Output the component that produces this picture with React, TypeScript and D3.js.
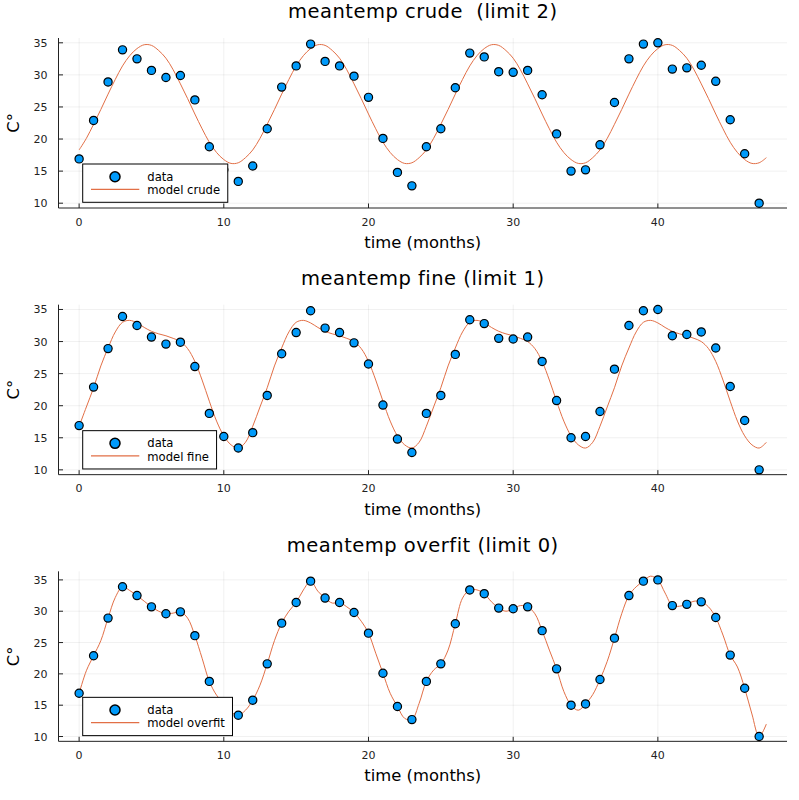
import React from "react";
import * as d3 from "d3";

// ---- data ----
const dataValues = [16.9, 22.9, 28.9, 33.9, 32.5, 30.7, 29.6, 29.9, 26.1, 18.8, 15.2, 13.4, 15.8, 21.6, 28.1, 31.4, 34.8, 32.1, 31.4, 29.8, 26.5, 20.1, 14.8, 12.7, 18.8, 21.6, 28.0, 33.4, 32.8, 30.5, 30.4, 30.7, 26.9, 20.8, 15.0, 15.2, 19.1, 25.7, 32.5, 34.8, 35.0, 30.9, 31.1, 31.5, 29.0, 23.0, 17.7, 10.0];

// model curves sampled every half month, 0 .. 47.5
const modelCrude = [
  18.3, 20.1, 22.3, 24.6, 27.0, 29.3, 31.4, 33.0, 34.1, 34.7, 34.6, 33.8, 32.6, 30.8, 28.6, 26.3, 23.9, 21.6, 19.5, 17.9, 16.8, 16.2, 16.3, 17.1,
  18.3, 20.1, 22.3, 24.6, 27.0, 29.3, 31.4, 33.0, 34.1, 34.7, 34.6, 33.8, 32.6, 30.8, 28.6, 26.3, 23.9, 21.6, 19.5, 17.9, 16.8, 16.2, 16.3, 17.1,
  18.3, 20.1, 22.3, 24.6, 27.0, 29.3, 31.4, 33.0, 34.1, 34.7, 34.6, 33.8, 32.6, 30.8, 28.6, 26.3, 23.9, 21.6, 19.5, 17.9, 16.8, 16.2, 16.3, 17.1,
  18.3, 20.1, 22.3, 24.6, 27.0, 29.3, 31.4, 33.0, 34.1, 34.7, 34.6, 33.8, 32.6, 30.8, 28.6, 26.3, 23.9, 21.6, 19.5, 17.9, 16.8, 16.2, 16.3, 17.1,
];

const modelFine = [
  16.8, 19.8, 22.8, 26.2, 29.0, 31.5, 33.0, 33.3, 32.9, 32.2, 31.6, 31.2, 30.9, 30.5, 30.0, 28.9, 26.9, 24.0, 20.7, 17.6, 15.3, 13.9, 13.4, 14.3,
  16.8, 19.8, 22.8, 26.2, 29.0, 31.5, 33.0, 33.3, 32.9, 32.2, 31.6, 31.2, 30.9, 30.5, 30.0, 28.9, 26.9, 24.0, 20.7, 17.6, 15.3, 13.9, 13.4, 14.3,
  16.8, 19.8, 22.8, 26.2, 29.0, 31.5, 33.0, 33.3, 32.9, 32.2, 31.6, 31.2, 30.9, 30.5, 30.0, 28.9, 26.9, 24.0, 20.7, 17.6, 15.3, 13.9, 13.4, 14.3,
  16.8, 19.8, 22.8, 26.2, 29.0, 31.5, 33.0, 33.3, 32.9, 32.2, 31.6, 31.2, 30.9, 30.5, 30.0, 28.9, 26.9, 24.0, 20.7, 17.6, 15.3, 13.9, 13.4, 14.3,
];

const modelOverfit = [
  16.9, 20.5, 22.9, 25.3, 28.9, 32.2, 33.9, 33.3, 32.5, 31.6, 30.7, 30.0, 29.6, 29.7, 29.9, 28.9, 26.1, 22.5, 18.8, 16.6, 15.2, 13.9, 13.4, 14.2,
  15.8, 18.2, 21.6, 25.3, 28.1, 30.0, 31.4, 33.4, 34.8, 33.2, 32.1, 31.3, 31.4, 30.7, 29.8, 28.4, 26.5, 23.3, 20.1, 16.9, 14.8, 12.9, 12.7, 15.3,
  18.8, 20.6, 21.6, 23.8, 28.0, 32.1, 33.4, 33.4, 32.8, 31.5, 30.5, 30.0, 30.4, 30.9, 30.7, 29.6, 26.9, 23.8, 20.8, 17.2, 15.0, 14.2, 15.2, 16.7,
  19.1, 22.0, 25.7, 29.6, 32.5, 33.9, 34.8, 35.6, 35.0, 32.9, 30.9, 30.8, 31.1, 31.6, 31.5, 30.7, 29.0, 26.2, 23.0, 21.1, 17.7, 13.6, 10.0, 12.0,
];

const dataMonths = d3.range(dataValues.length);
const modelMonths = d3.range(modelCrude.length).map((i) => i / 2);

const panelTitles = ["meantemp crude  (limit 2)", "meantemp fine (limit 1)", "meantemp overfit (limit 0)"];
const modelLabels = ["model crude", "model fine", "model overfit"];
const models = [modelCrude, modelFine, modelOverfit];
const xTicks = [0, 10, 20, 30, 40];
const yTicks = [10, 15, 20, 25, 30, 35];
const xLabel = "time (months)";
const yLabel = "C°";
const dataLabel = "data";

const W = 799;
const H = 800;
const FONT = "DejaVu Sans, sans-serif";
const BLUE = "#009AFA";
const ORANGE = "#E26F46";

function measure(text: string, size: number) {
  if (typeof document === "undefined") return text.length * size * 0.6;
  const c = document.createElement("canvas");
  const ctx = c.getContext("2d");
  if (!ctx) return text.length * size * 0.6;
  ctx.font = `${size}px "DejaVu Sans"`;
  return ctx.measureText(text).width;
}

function Panel({ idx }: { idx: number }) {
  const panelTop = (idx * H) / 3;
  const left = 58.5;
  const right = 787;
  const top = panelTop + 38;
  const bottom = panelTop + 208;
  const model = models[idx];

  const xExt = d3.extent(modelMonths.concat(dataMonths)) as [number, number];
  const xPad = (xExt[1] - xExt[0]) * 0.03;
  const x = d3.scaleLinear().domain([xExt[0] - xPad, xExt[1] + xPad]).range([left, right]);

  const yExt = d3.extent(model.concat(dataValues)) as [number, number];
  const yPad = (yExt[1] - yExt[0]) * 0.03;
  const y = d3.scaleLinear().domain([yExt[0] - yPad, yExt[1] + yPad]).range([bottom, top]);

  const line = d3
    .line<number>()
    .x((_, i) => x(modelMonths[i]))
    .y((d) => y(d))
    .curve(d3.curveCatmullRom.alpha(0.5));

  const legFont = 11.6;
  const legLeft = left + 24.2;
  const legTop = bottom - 44;
  const legW = 64.6 + measure(modelLabels[idx], legFont) + 7.7;
  const legH = 38.3;
  const cx = (left + right) / 2;

  return (
    <g>
      <text
        x={cx}
        y={panelTop + 18.3}
        textAnchor="middle"
        fontSize={19.5}
        letterSpacing={0.5}
        fontFamily={FONT}
        fill="#000"
        style={{ whiteSpace: "pre" }}
      >
        {panelTitles[idx]}
      </text>
      {/* grid */}
      {xTicks.map((t) => (
        <line key={"gx" + t} x1={x(t)} x2={x(t)} y1={top} y2={bottom} stroke="#000" strokeOpacity={0.1} strokeWidth={0.6} />
      ))}
      {yTicks.map((t) => (
        <line key={"gy" + t} x1={left} x2={right} y1={y(t)} y2={y(t)} stroke="#000" strokeOpacity={0.1} strokeWidth={0.6} />
      ))}
      {/* axes */}
      <line x1={left} x2={left} y1={top} y2={bottom} stroke="#222" strokeWidth={1} />
      <line x1={left} x2={right} y1={bottom} y2={bottom} stroke="#222" strokeWidth={1} />
      {xTicks.map((t) => (
        <g key={"xt" + t}>
          <line x1={x(t)} x2={x(t)} y1={bottom} y2={bottom - 4.5} stroke="#222" strokeWidth={1} />
          <text x={x(t)} y={panelTop + 225.7} textAnchor="middle" fontSize={11} fontFamily={FONT} fill="#222">
            {t}
          </text>
        </g>
      ))}
      {yTicks.map((t) => (
        <g key={"yt" + t}>
          <line x1={left} x2={left + 4.5} y1={y(t)} y2={y(t)} stroke="#222" strokeWidth={1} />
          <text x={left - 11} y={y(t) + 4} textAnchor="end" fontSize={11} fontFamily={FONT} fill="#222">
            {t}
          </text>
        </g>
      ))}
      <text x={cx} y={panelTop + 248} textAnchor="middle" fontSize={16.4} fontFamily={FONT} fill="#000">
        {xLabel}
      </text>
      <text
        transform={`translate(${18.5},${(top + bottom) / 2}) rotate(-90)`}
        textAnchor="middle"
        fontSize={16.4}
        fontFamily={FONT}
        fill="#000"
      >
        {yLabel}
      </text>
      {/* model line */}
      <path d={line(model) || ""} fill="none" stroke={ORANGE} strokeWidth={1} />
      {/* data points */}
      {dataValues.map((v, i) => (
        <circle key={"p" + i} cx={x(dataMonths[i])} cy={y(v)} r={4.1} fill={BLUE} stroke="#000" strokeWidth={1.2} />
      ))}
      {/* legend */}
      <rect x={legLeft} y={legTop} width={legW} height={legH} fill="#fff" stroke="#000" strokeWidth={1} />
      <circle cx={legLeft + 32.3} cy={legTop + 12.7} r={5} fill={BLUE} stroke="#000" strokeWidth={1.5} />
      <text x={legLeft + 64.6} y={legTop + 16.7} fontSize={legFont} fontFamily={FONT} fill="#000">
        {dataLabel}
      </text>
      <line x1={legLeft + 8.3} x2={legLeft + 56.6} y1={legTop + 25.3} y2={legTop + 25.3} stroke={ORANGE} strokeWidth={1.2} />
      <text x={legLeft + 64.6} y={legTop + 30} fontSize={legFont} fontFamily={FONT} fill="#000">
        {modelLabels[idx]}
      </text>
    </g>
  );
}

export default function App() {
  return (
    <svg width={W} height={H} style={{ display: "block", position: "absolute", left: 0, top: 0 }} viewBox={`0 0 ${W} ${H}`}>
      <rect x={0} y={0} width={W} height={H} fill="#fff" />
      {[0, 1, 2].map((i) => (
        <Panel key={i} idx={i} />
      ))}
    </svg>
  );
}
